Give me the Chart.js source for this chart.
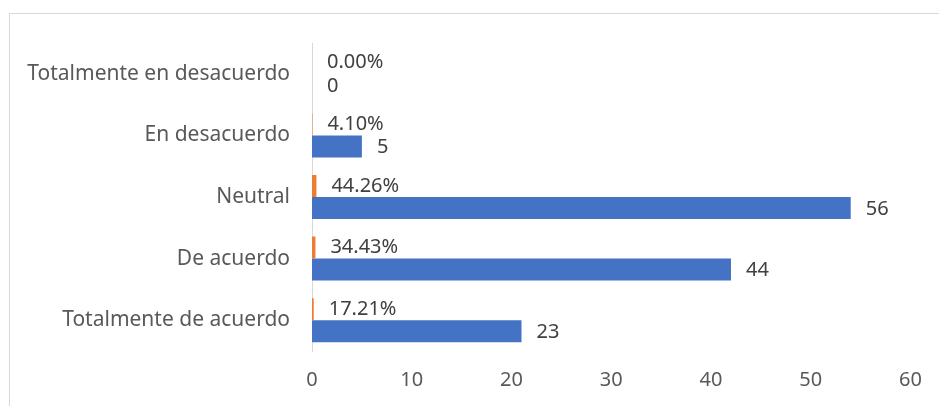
<!DOCTYPE html>
<html>
<head>
<meta charset="utf-8">
<script src="https://cdn.jsdelivr.net/npm/chart.js@4"></script>
<style>
  html, body { margin: 0; padding: 0; background: #fff; }
  #wrap { position: relative; width: 939px; height: 406px; overflow: hidden; }
  #frame { position: absolute; left: 9px; top: 13px; width: 1000px; height: 500px; border: 1px solid #d9d9d9; }
  #graph { position: absolute; left: 0; top: 0; }
</style>
</head>
<body>
<div id="wrap">
  <div id="frame"></div>
  <canvas id="graph" width="939" height="406" aria-label="Respuestas" role="img"></canvas>
</div>
<script>
// categories, top to bottom
const categories = ['Totalmente en desacuerdo', 'En desacuerdo', 'Neutral', 'De acuerdo', 'Totalmente de acuerdo']
// bar lengths (frequency) and the text labels printed next to them
const counts = [0, 5, 54, 42, 21]
const countLabels = ['0', '5', '56', '44', '23']
// share as a fraction, drawn on the same axis
const shares = [0, 0.041, 0.4426, 0.3443, 0.1721]
const shareLabels = ['0.00%', '4.10%', '44.26%', '34.43%', '17.21%']
const xTicks = [0, 10, 20, 30, 40, 50, 60]

const FONT = 'Noto Sans'

const labelPlugin = {
    id: 'barLabels',
    afterDatasetsDraw(chart) {
        let ctx = chart.ctx
        ctx.save()
        ctx.font = '20px "' + FONT + '"'
        ctx.fillStyle = '#404040'
        ctx.textAlign = 'left'
        ctx.textBaseline = 'middle'
        let pctBars = chart.getDatasetMeta(0).data
        let cntBars = chart.getDatasetMeta(1).data
        pctBars.forEach((b, i) => ctx.fillText(shareLabels[i], b.x + 15, b.y))
        cntBars.forEach((b, i) => ctx.fillText(countLabels[i], b.x + 15, b.y + 1))
        ctx.restore()
    }
}

let ctx = document.getElementById('graph').getContext('2d')
new Chart(ctx, {
    type: 'bar',
    data: {
        labels: categories,
        datasets: [{
            label: 'Porcentaje',
            data: shares,
            backgroundColor: '#ED7D31'
        }, {
            label: 'Frecuencia',
            data: counts,
            backgroundColor: '#4472C4'
        }]
    },
    options: {
        indexAxis: 'y',
        responsive: false,
        animation: false,
        categoryPercentage: 0.715,
        barPercentage: 1,
        layout: { padding: { top: 43, right: 26, left: 0, bottom: 0 } },
        plugins: { legend: { display: false }, tooltip: { enabled: false } },
        scales: {
            x: {
                min: 0,
                max: 60,
                afterBuildTicks: s => { s.ticks = xTicks.map(v => ({ value: v })) },
                afterFit: s => { s.height = 55 },
                grid: { display: false, drawTicks: false },
                border: { display: false },
                ticks: { color: '#595959', font: { family: FONT, size: 20 }, padding: 17 }
            },
            y: {
                afterFit: s => { s.width = 312 },
                grid: { display: false, drawTicks: false },
                border: { display: true, color: '#d9d9d9', width: 1 },
                ticks: { color: '#595959', font: { family: FONT, size: 21 }, padding: 22 }
            }
        }
    },
    plugins: [labelPlugin]
})
</script>
</body>
</html>
